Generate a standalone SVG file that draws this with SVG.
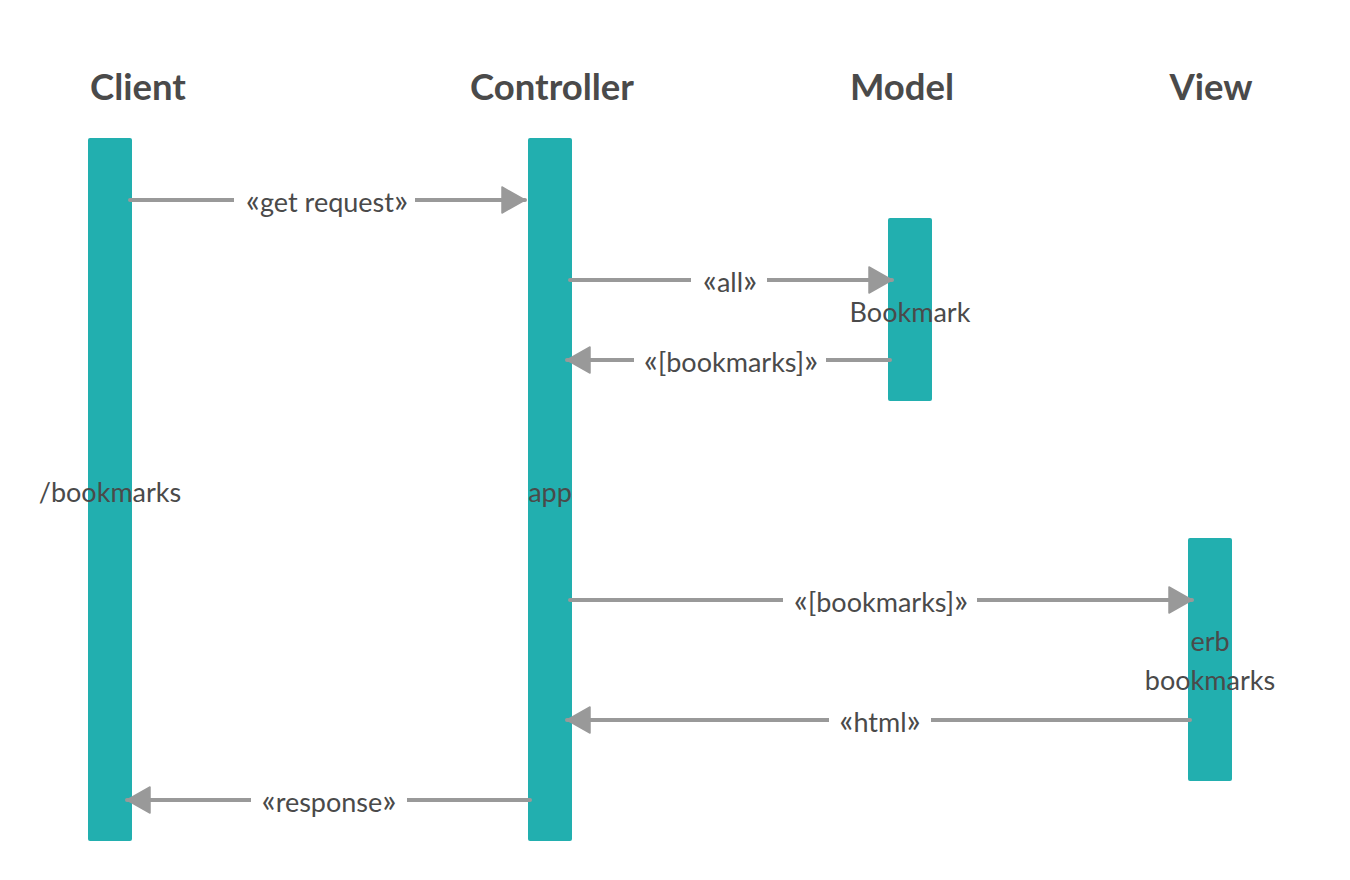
<svg xmlns="http://www.w3.org/2000/svg" width="1350" height="880" viewBox="0 0 1350 880">
<style>
.title{font-family:Lato,"Liberation Sans",sans-serif;font-size:36.5px;font-weight:bold;fill:#4a4a4a;text-anchor:middle}
.bar{fill:#22afaf}
.lbl{font-family:Lato,"Liberation Sans",sans-serif;font-size:27px;fill:#4a4a4a;text-anchor:middle}
.msg{font-family:Lato,"Liberation Sans",sans-serif;font-size:27px;fill:#4a4a4a;text-anchor:middle}
.g{font-size:33px}
.bg{fill:#fff}
.line{stroke:#999;stroke-width:4;fill:none;stroke-linecap:round;marker-end:url(#ah)}
</style>
<defs>
<marker id="ah" markerUnits="userSpaceOnUse" markerWidth="26" markerHeight="28" refX="23" refY="13" orient="auto" viewBox="-1 -1 26 28">
<path d="M0,0 L23,13 L0,26 z" fill="#999" stroke="#999" stroke-width="1.5" stroke-linejoin="round"/>
</marker>
</defs>
<rect width="1350" height="880" fill="#fff"/>
<g id="client">
<text class="title" x="138" y="100">Client</text>
<rect class="bar" x="88" y="138" width="44" height="703" rx="2"/>
<text class="lbl" x="110" y="502">/bookmarks</text>
</g>
<g id="controller">
<text class="title" x="552" y="100">Controller</text>
<rect class="bar" x="528" y="138" width="44" height="703" rx="2"/>
<text class="lbl" x="550" y="502">app</text>
</g>
<g id="model">
<text class="title" x="902" y="100">Model</text>
<rect class="bar" x="888" y="218" width="44" height="183" rx="2"/>
<text class="lbl" x="910" y="322">Bookmark</text>
</g>
<g id="view">
<text class="title" x="1211" y="100">View</text>
<rect class="bar" x="1188" y="538" width="44" height="243" rx="2"/>
<text class="lbl" x="1210" y="651">erb</text>
<text class="lbl" x="1210" y="690">bookmarks</text>
</g>
<g id="connectors">
<line class="line" x1="130" y1="200" x2="525" y2="200"/>
<rect class="bg" x="234" y="188" width="181" height="26"/>
<text class="msg" x="327" y="212"><tspan class="g">«</tspan>get request<tspan class="g">»</tspan></text>
<line class="line" x1="570" y1="280" x2="892" y2="280"/>
<rect class="bg" x="691" y="268" width="76" height="26"/>
<text class="msg" x="730" y="292"><tspan class="g">«</tspan>all<tspan class="g">»</tspan></text>
<line class="line" x1="890" y1="360" x2="567" y2="360"/>
<rect class="bg" x="634" y="348" width="192" height="26"/>
<text class="msg" x="731" y="372"><tspan class="g">«</tspan>[bookmarks]<tspan class="g">»</tspan></text>
<line class="line" x1="570" y1="600" x2="1192" y2="600"/>
<rect class="bg" x="783" y="588" width="194" height="26"/>
<text class="msg" x="881" y="612"><tspan class="g">«</tspan>[bookmarks]<tspan class="g">»</tspan></text>
<line class="line" x1="1190" y1="720" x2="567" y2="720"/>
<rect class="bg" x="829" y="708" width="102" height="26"/>
<text class="msg" x="880" y="732"><tspan class="g">«</tspan>html<tspan class="g">»</tspan></text>
<line class="line" x1="530" y1="800" x2="127" y2="800"/>
<rect class="bg" x="251" y="788" width="156" height="26"/>
<text class="msg" x="329" y="812"><tspan class="g">«</tspan>response<tspan class="g">»</tspan></text>
</g>
</svg>
